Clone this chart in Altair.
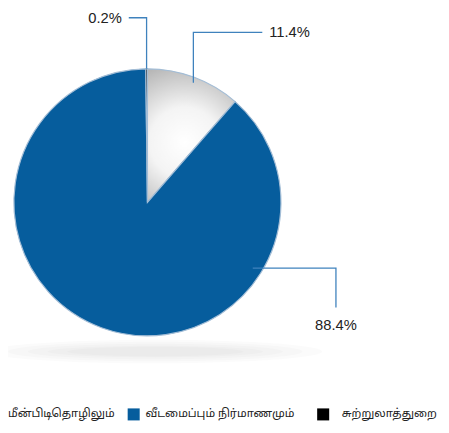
import math
import altair as alt
import pandas as pd

# ---- data ----
categories = ["மீன்பிடிதொழிலும்", "வீடமைப்பும் நிர்மாணமும்", "சுற்றுலாத்துறை"]
values = [11.4, 88.4, 0.2]
labels = ["11.4%", "88.4%", "0.2%"]
colors = ["#ffffff", "#065d9d", "#000000"]

# ---- layout (pixels, chart coords) ----
W, H = 441, 425
CX, CY, R = 142, 194, 136
leader_anchor_deg = [21, 122, 359.64]
leader_anchor_rf = [0.96, 0.93, 1.0]
leader_elbow = [("y", 21), ("x", 334), ("y", 6)]
leader_end = [("x", 259), ("y", 301), ("x", 123)]
text_pos = [(266, 21), (334, 319), (116, 6)]
text_align = ["left", "center", "right"]

# soft shadow ellipses: width px, half-height px
shadow_w = [340, 300, 260, 220, 180]
shadow_hh = [12, 10, 8, 6, 5]

df = pd.DataFrame({"cat": categories, "v": values, "idx": list(range(len(values)))})

white_grad = {
    "gradient": "radial",
    "x1": 0.45, "y1": 0.55, "r1": 0.0,
    "x2": 0.45, "y2": 0.55, "r2": 0.75,
    "stops": [
        {"offset": 0.0, "color": "#ffffff"},
        {"offset": 0.35, "color": "#f4f4f4"},
        {"offset": 1.0, "color": "#9a9a9a"},
    ],
}

shadow_layers = []
for w, hh in zip(shadow_w, shadow_hh):
    ry = hh / (w / 2)
    path = f"M-1,0 A1,{ry:.4f},0,1,1,1,0 A1,{ry:.4f},0,1,1,-1,0 Z"
    shadow_layers.append(
        alt.Chart(pd.DataFrame({"a": [0]})).mark_point(
            shape=path, size=w * w, filled=True, fill="#000000", opacity=0.016, strokeWidth=0
        ).encode(x=alt.value(150), y=alt.value(346))
    )

pie = alt.Chart(df).mark_arc(outerRadius=R, stroke="#a3bdd6", strokeWidth=1.2).encode(
    theta=alt.Theta("v:Q", stack=True),
    order=alt.Order("idx:Q"),
    fill=alt.condition(
        alt.datum.idx == 0,
        alt.value(white_grad),
        alt.Fill("cat:N", scale=alt.Scale(domain=categories, range=colors), legend=None),
    ),
    x=alt.value(CX),
    y=alt.value(CY),
)

rows = []
for i, lab in enumerate(labels):
    a = math.radians(leader_anchor_deg[i])
    ax = CX + R * leader_anchor_rf[i] * math.sin(a)
    ay = CY - R * leader_anchor_rf[i] * math.cos(a)
    pts = [(ax, ay)]
    k, val = leader_elbow[i]
    ex, ey = (ax, val) if k == "y" else (val, ay)
    pts.append((ex, ey))
    k2, val2 = leader_end[i]
    fx, fy = (ex, val2) if k2 == "y" else (val2, ey)
    pts.append((fx, fy))
    for j, (px, py) in enumerate(pts):
        rows.append({"lab": lab, "o": j, "px": px, "py": py})
lines_df = pd.DataFrame(rows)

leaders = alt.Chart(lines_df).mark_line(color="#3f82bd", strokeWidth=1.3).encode(
    x=alt.X("px:Q", scale=None),
    y=alt.Y("py:Q", scale=None),
    detail="lab:N",
    order="o:Q",
)

text_df = pd.DataFrame({
    "lab": labels,
    "tx": [p[0] for p in text_pos],
    "ty": [p[1] for p in text_pos],
    "al": text_align,
})
texts = []
for al in ["left", "center", "right"]:
    texts.append(
        alt.Chart(text_df).transform_filter(alt.datum.al == al)
        .mark_text(align=al, baseline="middle", fontSize=15, font="Liberation Sans", color="#222222")
        .encode(x=alt.X("tx:Q", scale=None), y=alt.Y("ty:Q", scale=None), text="lab:N")
    )

# manual legend
leg_sym_x = [-20, 128, 321]
leg_txt_x = [0, 140, 340]
leg_y = 410
leg_df = pd.DataFrame({"cat": categories, "sx": leg_sym_x, "tx": leg_txt_x, "idx": [0, 1, 2]})
leg_sym = alt.Chart(leg_df).mark_square(size=150, opacity=1).encode(
    x=alt.X("sx:Q", scale=None),
    y=alt.value(leg_y),
    fill=alt.Fill("cat:N", scale=alt.Scale(domain=categories, range=colors), legend=None),
)
leg_txt = alt.Chart(leg_df).mark_text(
    align="left", baseline="middle", fontSize=11.5,
    font="Noto Sans Tamil, Latha, Noto Sans, sans-serif", color="#222222"
).encode(x=alt.X("tx:Q", scale=None), y=alt.value(leg_y), text="cat:N")

chart = alt.layer(*shadow_layers, pie, leaders, *texts, leg_sym, leg_txt).properties(
    width=W, height=H, autosize=alt.AutoSizeParams(type="none"), padding=0
).resolve_scale(fill="independent").configure_view(stroke=None)

chart.save("out.html", embed_options={"renderer": "svg", "actions": False})
